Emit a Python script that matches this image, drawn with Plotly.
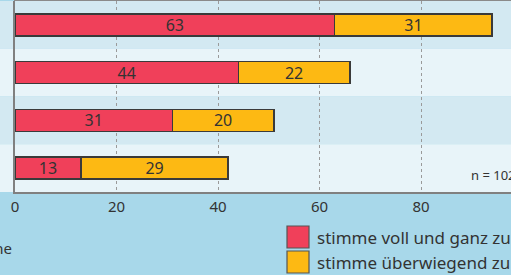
import plotly.graph_objects as go

categories = ["Aussage A", "Aussage B", "Aussage C", "Aussage D"]
voll = [63, 44, 31, 13]
ueberwiegend = [31, 22, 20, 29]
series_names = ["stimme voll und ganz zu", "stimme überwiegend zu"]
colors = ["#f0405a", "#fdb913"]
tick_vals = [0, 20, 40, 60, 80]
tick_text = ["0", "20", "40", "60", "80"]
n_text = "n = 1024"
left_text = "keine"

W, H = 511, 275
L, R, T, B = 15, 0, 1, 83
pw, ph = W - L - R, H - T - B


def px(x):
    return (x - L) / pw


def py(y):
    return 1 - (y - T) / ph


FONT = "Noto Sans"
fig = go.Figure()
for name, vals, col in zip(series_names, [voll, ueberwiegend], colors):
    fig.add_trace(go.Bar(
        y=categories, x=vals, name=name, orientation="h",
        marker=dict(color=col, line=dict(color="#3a3a3a", width=1.5)),
        text=[str(v) for v in vals], textposition="inside", textangle=0,
        insidetextanchor="middle", constraintext="none",
        textfont=dict(family=FONT, size=16, color="#333333"),
        showlegend=False, cliponaxis=False, hoverinfo="skip",
    ))

shapes = []
band_cols = ["#d3e9f2", "#e8f4f9"]
for i in range(len(categories)):
    shapes.append(dict(type="rect", xref="paper", yref="y",
                       x0=px(0), x1=1.0, y0=i - 0.5, y1=i + 0.5,
                       fillcolor=band_cols[i % 2], line=dict(width=0), layer="below"))
# top border
shapes.append(dict(type="line", xref="paper", yref="paper", x0=px(14), x1=1.0,
                   y0=py(0.5), y1=py(0.5), line=dict(color="#8a8a8a", width=1)))
annotations = []
# legend
for j, (name, col) in enumerate(zip(series_names, colors)):
    y0 = 226 + j * 25
    shapes.append(dict(type="rect", xref="paper", yref="paper",
                       x0=px(287), x1=px(309), y0=py(y0 + 22), y1=py(y0),
                       fillcolor=col, line=dict(color="#555555", width=1.2)))
    annotations.append(dict(xref="paper", yref="paper", x=px(315), y=py(y0 + 11),
                            text=name, showarrow=False, xanchor="left", yanchor="middle",
                            font=dict(family=FONT, size=17, color="#333333")))
annotations.append(dict(xref="paper", yref="paper", x=px(469), y=py(175),
                        text=n_text, showarrow=False, xanchor="left", yanchor="middle",
                        font=dict(family=FONT, size=13, color="#333333")))
annotations.append(dict(xref="paper", yref="paper", x=px(14), y=py(248),
                        text=left_text, showarrow=False, xanchor="right", yanchor="middle",
                        font=dict(family=FONT, size=15, color="#333333")))

fig.update_layout(
    width=W, height=H,
    margin=dict(l=L, r=R, t=T, b=B, pad=0, autoexpand=False),
    paper_bgcolor="#a8d8ea",
    plot_bgcolor="rgba(0,0,0,0)",
    barmode="stack", bargap=0.54,
    shapes=shapes, annotations=annotations,
    xaxis=dict(range=[0, pw / 5.075], tickvals=tick_vals, ticktext=tick_text,
               showgrid=True, gridcolor="#9a9a9a", griddash="dot", gridwidth=1,
               zeroline=False, showline=True, linecolor="#808080", linewidth=2,
               ticks="", ticklabelstandoff=0,
               tickfont=dict(family=FONT, size=15, color="#333333"),
               automargin=False, fixedrange=True),
    yaxis=dict(categoryorder="array", categoryarray=categories,
               range=[len(categories) - 0.5, -0.5], showticklabels=False,
               showgrid=False, zeroline=False, showline=True, automargin=False,
               linecolor="#808080", linewidth=2, ticks="", fixedrange=True),
)

fig.write_html("out.html", config={"displayModeBar": False},
               post_script="document.body.style.margin='0';document.body.style.overflow='hidden';")
